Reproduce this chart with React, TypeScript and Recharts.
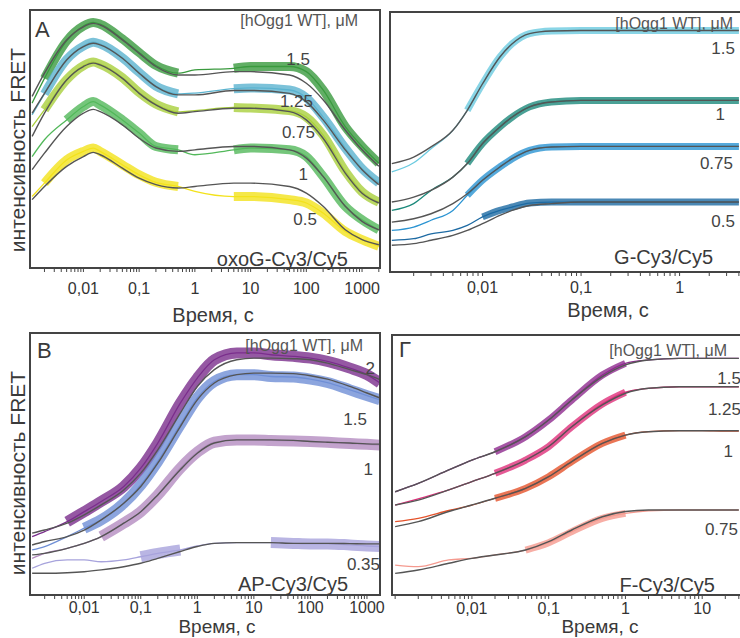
import React from 'react';
import { LineChart, Line, XAxis, YAxis } from 'recharts';

// time points (s), FRET in % of the frame height
const timeOxoG = [0.0012, 0.002, 0.005, 0.01, 0.015, 0.02, 0.05, 0.1, 0.2, 0.5, 1, 5, 10, 50, 100, 200, 500, 1000, 2000];
const obsOxoG15 = [63.9, 73.5, 88.0, 93.8, 95.2, 94.5, 88.8, 83.5, 78.5, 75.5, 76.8, 77.4, 78.1, 78.1, 76.1, 69.0, 54.8, 47.1, 40.6];
const fitOxoG15 = [66.5, 75.5, 88.4, 93.5, 94.8, 94.2, 88.4, 83.2, 78.1, 74.8, 74.8, 76.1, 76.1, 74.8, 71.6, 65.2, 53.5, 45.8, 39.4];
const obsOxoG125 = [59.4, 67.5, 80.8, 86.0, 87.5, 86.8, 81.5, 75.8, 70.5, 67.5, 67.8, 69.5, 69.8, 69.0, 66.0, 58.5, 46.5, 38.5, 33.0];
const fitOxoG125 = [60.0, 67.7, 80.6, 85.8, 87.1, 86.5, 81.3, 75.5, 70.3, 67.1, 67.1, 68.8, 68.8, 67.7, 64.5, 57.4, 45.8, 38.1, 32.3];
const obsOxoG075 = [54.8, 61.3, 73.0, 78.4, 79.8, 79.0, 73.8, 68.0, 63.5, 60.5, 61.0, 62.2, 62.0, 61.0, 58.5, 51.5, 37.5, 29.5, 25.5];
const fitOxoG075 = [51.0, 60.0, 72.9, 78.1, 79.4, 78.7, 73.5, 67.7, 63.2, 60.0, 60.6, 61.9, 61.9, 60.6, 57.4, 50.3, 36.8, 29.0, 25.2];
const obsOxoG1 = [43.2, 49.7, 57.4, 62.6, 64.5, 63.2, 57.4, 52.3, 47.1, 45.8, 43.9, 45.8, 46.5, 45.8, 43.2, 35.5, 23.9, 18.7, 14.8];
const fitOxoG1 = [38.1, 44.5, 54.8, 60.0, 61.5, 60.6, 55.5, 50.3, 46.5, 45.2, 45.8, 47.1, 47.1, 45.8, 42.6, 35.5, 23.9, 18.1, 14.8];
const obsOxoG05 = [27.7, 32.9, 41.9, 45.2, 46.5, 45.2, 40.0, 36.1, 33.2, 31.6, 29.7, 27.7, 27.7, 26.5, 25.2, 21.3, 14.2, 11.0, 8.4];
const fitOxoG05 = [26.5, 31.6, 39.4, 43.2, 44.8, 43.9, 38.7, 34.8, 32.3, 31.0, 31.6, 32.9, 32.9, 31.6, 29.0, 23.9, 14.8, 11.0, 9.0];

const timeG = [0.0012, 0.002, 0.003, 0.005, 0.007, 0.01, 0.015, 0.02, 0.03, 0.05, 0.1, 0.2, 0.5, 1, 2, 4];
const obsG15 = [38.5, 42.0, 47.4, 54.5, 62.2, 72.4, 82.7, 87.8, 91.7, 92.7, 92.9, 92.9, 92.9, 92.9, 92.9, 92.9];
const fitG15 = [41.7, 44.2, 48.1, 54.5, 62.2, 72.4, 82.7, 87.8, 91.7, 92.7, 92.9, 92.9, 92.9, 92.9, 92.9, 92.9];
const obsG1 = [23.7, 26.3, 31.4, 36.5, 41.7, 49.4, 55.8, 59.6, 63.5, 65.4, 66.0, 66.0, 66.0, 66.0, 66.0, 66.0];
const fitG1 = [26.9, 28.8, 31.4, 36.5, 41.7, 49.4, 55.8, 59.6, 63.5, 65.4, 66.0, 66.0, 66.0, 66.0, 66.0, 66.0];
const obsG075 = [16.0, 17.3, 19.9, 23.7, 29.5, 35.3, 40.4, 43.6, 46.8, 48.1, 48.3, 48.3, 48.3, 48.3, 48.3, 48.3];
const fitG075 = [19.2, 20.5, 22.4, 26.3, 30.1, 35.3, 40.4, 43.6, 46.8, 48.1, 48.3, 48.3, 48.3, 48.3, 48.3, 48.3];
const obsG05 = [12.2, 12.8, 14.7, 16.0, 17.9, 21.2, 23.7, 25.0, 26.5, 26.9, 26.9, 26.9, 26.9, 26.9, 26.9, 26.9];
const fitG05 = [10.3, 10.9, 12.2, 14.1, 16.0, 18.6, 21.8, 23.7, 25.6, 26.3, 26.9, 26.9, 26.9, 26.9, 26.9, 26.9];

const timeAP = [0.0012, 0.002, 0.005, 0.01, 0.02, 0.05, 0.1, 0.2, 0.5, 1, 2, 5, 10, 20, 50, 100, 200, 500, 1000, 1700];
const obsAP2 = [22.3, 24.2, 28.0, 31.8, 35.7, 41.4, 48.4, 58.0, 73.2, 82.8, 89.8, 92.4, 92.4, 91.7, 91.1, 90.4, 89.2, 86.6, 84.1, 80.9];
const fitAP2 = [23.6, 24.8, 27.4, 30.6, 34.4, 40.1, 46.5, 55.4, 69.4, 79.6, 86.0, 89.8, 90.4, 90.4, 90.2, 89.8, 88.5, 86.0, 84.1, 82.2];
const obsAP15 = [17.2, 18.5, 22.3, 25.5, 28.7, 35.0, 42.0, 51.0, 65.0, 75.2, 81.5, 84.1, 84.1, 83.4, 83.2, 82.4, 81.1, 78.3, 76.1, 74.5];
const fitAP15 = [19.1, 20.4, 22.3, 24.8, 28.7, 35.0, 41.4, 50.3, 64.3, 74.5, 80.9, 84.1, 84.7, 84.7, 84.5, 83.7, 82.4, 79.6, 77.1, 75.2];
const obsAP1 = [14.0, 15.9, 17.8, 19.7, 22.3, 27.4, 31.8, 38.2, 48.4, 54.5, 58.3, 59.2, 59.2, 59.0, 58.8, 58.6, 58.3, 57.8, 57.5, 57.2];
const fitAP1 = [15.3, 15.9, 17.8, 19.7, 22.3, 27.4, 31.8, 38.2, 47.8, 54.1, 58.0, 59.2, 59.2, 59.2, 59.0, 58.6, 58.3, 58.0, 57.7, 57.6];
const obsAP035 = [10.2, 12.1, 13.4, 13.4, 12.7, 13.4, 14.6, 15.9, 17.2, 18.7, 19.7, 20.0, 20.0, 20.0, 19.7, 19.5, 19.5, 19.1, 18.7, 18.5];
const fitAP035 = [8.3, 8.3, 8.5, 8.9, 9.6, 10.8, 12.1, 14.0, 16.6, 18.5, 19.7, 20.0, 20.0, 20.0, 19.7, 19.7, 19.7, 19.6, 19.5, 19.5];

const timeF = [0.001, 0.002, 0.005, 0.01, 0.02, 0.05, 0.1, 0.2, 0.5, 1, 2, 5, 10, 20, 30];
const obsF15 = [39.7, 42.9, 48.1, 51.9, 55.1, 60.9, 67.3, 75.0, 84.6, 89.1, 90.4, 91.0, 91.0, 91.0, 91.0];
const fitF15 = [39.7, 42.9, 48.1, 51.9, 55.1, 60.9, 67.3, 75.0, 84.0, 88.5, 90.4, 91.0, 91.0, 91.0, 91.0];
const obsF125 = [34.6, 37.0, 40.4, 43.6, 46.8, 51.9, 57.1, 64.7, 73.5, 78.0, 79.5, 80.1, 80.1, 80.1, 80.1];
const fitF125 = [34.6, 36.5, 40.4, 43.6, 46.8, 51.9, 57.1, 64.7, 73.1, 77.6, 79.5, 80.1, 80.1, 80.1, 80.1];
const obsF1 = [28.2, 29.5, 32.5, 34.6, 37.2, 41.0, 45.5, 51.3, 58.3, 61.5, 62.8, 63.2, 63.2, 63.0, 63.0];
const fitF1 = [26.3, 28.2, 32.1, 34.6, 37.2, 41.0, 45.5, 51.3, 58.3, 61.5, 62.8, 63.2, 63.2, 63.2, 63.2];
const obsF075 = [11.5, 10.9, 13.5, 14.1, 15.4, 17.3, 20.1, 24.4, 29.5, 31.4, 32.4, 32.7, 32.7, 32.7, 32.7];
const fitF075 = [8.3, 9.6, 12.2, 14.1, 15.4, 17.3, 20.5, 25.0, 30.1, 32.1, 32.7, 32.7, 32.7, 32.7, 32.7];

const ticksOxoG = [0.01, 0.1, 1, 10, 100, 1000];
const tickLabelsOxoG = ['0,01', '0,1', '1', '10', '100', '1000'];
const ticksG = [0.01, 0.1, 1];
const tickLabelsG = ['0,01', '0,1', '1'];
const ticksAP = [0.01, 0.1, 1, 10, 100, 1000];
const tickLabelsAP = ['0,01', '0,1', '1', '10', '100', '1000'];
const ticksF = [0.01, 0.1, 1, 10];
const tickLabelsF = ['0,01', '0,1', '1', '10'];

const FONT = '"Liberation Sans", Arial, sans-serif';
const FIT = '#555';

// noisy: time windows where the raw trace shows its wide noise band
type Series = { color: string; obs: number[]; fit: number[]; noisy: [number, number][] };

function minorTicks(domain: [number, number]) {
  const out: number[] = [];
  const d0 = Math.floor(Math.log10(domain[0]));
  const d1 = Math.ceil(Math.log10(domain[1]));
  for (let d = d0; d <= d1; d++) {
    for (let m = 1; m <= 9; m++) {
      const v = m * Math.pow(10, d);
      if (v >= domain[0] && v <= domain[1]) out.push(Number(v.toPrecision(6)));
    }
  }
  return out;
}

function Panel(props: {
  left: number; top: number; width: number; height: number;
  margin: { top: number; right: number; left: number; bottom: number };
  domain: [number, number]; times: number[]; series: Series[]; band: number;
  ticks: number[]; tickLabels: string[]; tickDy: number;
}) {
  const { left, top, width, height, margin, domain, times, series, band, ticks, tickLabels, tickDy } = props;
  const rows = times.map((t, i) => {
    const r: any = { t };
    series.forEach((s, k) => {
      const inNoise = s.noisy.some(([a, b]) => t >= a && t <= b);
      r['o' + k] = s.obs[i];
      r['n' + k] = inNoise ? s.obs[i] : null;
      r['f' + k] = s.fit[i];
    });
    return r;
  });

  const Tick = (p: any) => {
    const v = p.payload.value;
    const idx = ticks.findIndex((m) => Math.abs(Math.log10(m) - Math.log10(v)) < 1e-6);
    if (idx < 0) return <g />;
    return (
      <text x={p.x} y={p.y + tickDy} textAnchor="middle" fontSize={16} fill="#333" fontFamily={FONT}>
        {tickLabels[idx]}
      </text>
    );
  };

  return (
    <div style={{ position: 'absolute', left, top }}>
      <LineChart width={width} height={height} data={rows} margin={margin}>
        <XAxis
          dataKey="t"
          type="number"
          scale="log"
          domain={domain}
          allowDataOverflow
          ticks={minorTicks(domain)}
          interval={0}
          height={32}
          axisLine={false}
          tickLine={{ stroke: '#444' }}
          tickSize={4}
          tickMargin={2}
          tick={<Tick />}
        />
        <YAxis hide type="number" domain={[0, 100]} allowDataOverflow />
        {series.map((s, k) => (
          <Line key={'o' + k} dataKey={'o' + k} type="monotone" stroke={s.color} strokeWidth={1.3}
            dot={false} activeDot={false} isAnimationActive={false} />
        ))}
        {series.map((s, k) => (
          <Line key={'n' + k} dataKey={'n' + k} type="monotone" stroke={s.color} strokeWidth={band}
            strokeOpacity={0.8} strokeLinecap="butt" dot={false} activeDot={false} isAnimationActive={false} />
        ))}
        {series.map((s, k) => (
          <Line key={'f' + k} dataKey={'f' + k} type="monotone" stroke={FIT} strokeWidth={1.4}
            dot={false} activeDot={false} isAnimationActive={false} />
        ))}
      </LineChart>
    </div>
  );
}

const txt = { fontFamily: FONT, fill: '#3a3a3a' };
const ALL: [number, number] = [0, 1e9];

export default function App() {
  return (
    <div style={{ position: 'absolute', left: 0, top: 0, width: 740, height: 638, overflow: 'hidden', background: '#fff' }}>
      <Panel left={0} top={0} width={385} height={300} margin={{ top: 10, right: 5, left: 30, bottom: 0 }}
        domain={[0.0011, 2100]} times={timeOxoG} band={9}
        ticks={ticksOxoG} tickLabels={tickLabelsOxoG} tickDy={19.5}
        series={[
          { color: '#3a9a3e', obs: obsOxoG15, fit: fitOxoG15, noisy: [[0.002, 0.5], [5, 1e9]] },
          { color: '#5bb3cf', obs: obsOxoG125, fit: fitOxoG125, noisy: [[0.002, 0.5], [5, 1e9]] },
          { color: '#a9cf3c', obs: obsOxoG075, fit: fitOxoG075, noisy: [[0.002, 0.5], [5, 1e9]] },
          { color: '#52b85a', obs: obsOxoG1, fit: fitOxoG1, noisy: [[0.005, 0.5], [5, 1e9]] },
          { color: '#f3e21b', obs: obsOxoG05, fit: fitOxoG05, noisy: [[0.002, 0.5], [5, 1e9]] },
        ]} />
      <Panel left={360} top={0} width={385} height={304} margin={{ top: 12, right: 3, left: 30, bottom: 0 }}
        domain={[0.00115, 4.3]} times={timeG} band={7}
        ticks={ticksG} tickLabels={tickLabelsG} tickDy={14.5}
        series={[
          { color: '#6ccbe0', obs: obsG15, fit: fitG15, noisy: [[0.007, 1e9]] },
          { color: '#1d8a7c', obs: obsG1, fit: fitG1, noisy: [[0.007, 1e9]] },
          { color: '#2b94d2', obs: obsG075, fit: fitG075, noisy: [[0.007, 1e9]] },
          { color: '#1d6aa3', obs: obsG05, fit: fitG05, noisy: [[0.01, 1e9]] },
        ]} />
      <Panel left={0} top={320} width={385} height={307} margin={{ top: 13, right: 5, left: 30, bottom: 0 }}
        domain={[0.0011, 1700]} times={timeAP} band={11}
        ticks={ticksAP} tickLabels={tickLabelsAP} tickDy={11.5}
        series={[
          { color: '#7a2e8c', obs: obsAP2, fit: fitAP2, noisy: [[0.005, 1e9]] },
          { color: '#6f8fd6', obs: obsAP15, fit: fitAP15, noisy: [[0.01, 1e9]] },
          { color: '#b48cc0', obs: obsAP1, fit: fitAP1, noisy: [[0.02, 1e9]] },
          { color: '#a7a3dc', obs: obsAP035, fit: fitAP035, noisy: [[0.1, 0.5], [20, 1e9]] },
        ]} />
      <Panel left={362} top={320} width={383} height={307} margin={{ top: 15, right: 3, left: 30, bottom: 0 }}
        domain={[0.00091, 33]} times={timeF} band={7}
        ticks={ticksF} tickLabels={tickLabelsF} tickDy={12.5}
        series={[
          { color: '#8e2a8e', obs: obsF15, fit: fitF15, noisy: [[0.02, 1]] },
          { color: '#df2f7b', obs: obsF125, fit: fitF125, noisy: [[0.02, 1]] },
          { color: '#e5532b', obs: obsF1, fit: fitF1, noisy: [[0.02, 1]] },
          { color: '#f59a8f', obs: obsF075, fit: fitF075, noisy: [[0.05, 1]] },
        ]} />

      <svg width={740} height={638} style={{ position: 'absolute', left: 0, top: 0, pointerEvents: 'none' }}>
        <g fill="none" stroke="#444" strokeWidth={2}>
          <rect x={30} y={10} width={350} height={258} />
          <rect x={390} y={12} width={360} height={260} />
          <rect x={30} y={333} width={350} height={262} />
          <rect x={392} y={335} width={360} height={260} />
        </g>

        <text x={25} y={150} transform="rotate(-90 25 150)" textAnchor="middle" fontSize={21} {...txt}>интенсивность FRET</text>
        <text x={25} y={473} transform="rotate(-90 25 473)" textAnchor="middle" fontSize={21} {...txt}>интенсивность FRET</text>
        <text x={213} y={322} textAnchor="middle" fontSize={20} {...txt}>Время, с</text>
        <text x={608} y={317} textAnchor="middle" fontSize={20} {...txt}>Время, с</text>
        <text x={217} y={633} textAnchor="middle" fontSize={19} {...txt}>Время, с</text>
        <text x={600} y={633} textAnchor="middle" fontSize={19} {...txt}>Время, с</text>

        <text x={35} y={37} fontSize={22} {...txt}>A</text>
        <text x={37} y={358} fontSize={22} {...txt}>B</text>
        <text x={399} y={357} fontSize={22} {...txt}>Г</text>

        <g fontSize={16} {...txt} fill="#555" textAnchor="end">
          <text x={358} y={26}>[hOgg1 WT], μM</text>
          <text x={733} y={29}>[hOgg1 WT], μM</text>
          <text x={363} y={351}>[hOgg1 WT], μM</text>
          <text x={727} y={356}>[hOgg1 WT], μM</text>
        </g>

        <g fontSize={17} {...txt} fill="#444" textAnchor="end">
          <text x={310} y={65}>1.5</text>
          <text x={313} y={107}>1.25</text>
          <text x={315} y={138}>0.75</text>
          <text x={308} y={180}>1</text>
          <text x={317} y={225}>0.5</text>

          <text x={735} y={54}>1.5</text>
          <text x={725} y={120}>1</text>
          <text x={733} y={169}>0.75</text>
          <text x={735} y={227}>0.5</text>

          <text x={375} y={374}>2</text>
          <text x={367} y={425}>1.5</text>
          <text x={373} y={475}>1</text>
          <text x={380} y={570}>0.35</text>

          <text x={741} y={384}>1.5</text>
          <text x={741} y={415}>1.25</text>
          <text x={733} y={457}>1</text>
          <text x={738} y={535}>0.75</text>
        </g>

        <g fontSize={20} {...txt} textAnchor="end">
          <text x={348} y={266}>oxoG-Cy3/Cy5</text>
          <text x={713} y={264}>G-Cy3/Cy5</text>
          <text x={348} y={591}>AP-Cy3/Cy5</text>
          <text x={715} y={592}>F-Cy3/Cy5</text>
        </g>
      </svg>
    </div>
  );
}
